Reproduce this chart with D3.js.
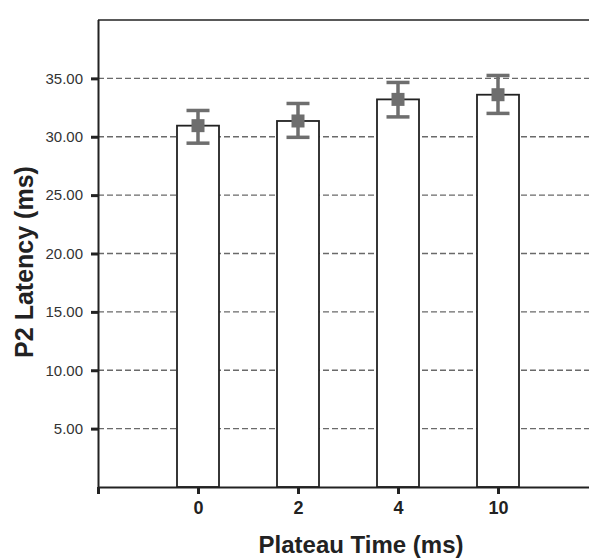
<!DOCTYPE html>
<html lang="en">
  <head>
    <meta charset="utf-8" />
    <title>P2 Latency by Plateau Time</title>
    <script src="https://d3js.org/d3.v7.min.js"></script>
    <style>
      body { margin: 0; background: #fff; }
      svg { display: block; font-family: "Liberation Sans", Arial, sans-serif; }
    </style>
  </head>
  <body>
    <svg id="chart" width="589" height="560"></svg>

    <script>
      // values
      const categories = ["0", "2", "4", "10"];
      const means = [30.95, 31.35, 33.2, 33.6];
      const errLow = [29.45, 29.95, 31.7, 32.0];
      const errHigh = [32.25, 32.85, 34.65, 35.25];
      const yTicks = [5, 10, 15, 20, 25, 30, 35];

      const svg = d3.select("#chart"),
        width = +svg.attr("width");

      const plotLeft = 98, plotTop = 20, plotBottom = 487, plotRight = 598;

      // empty slots at both ends, like the original
      const x = d3.scalePoint()
        .domain(["_a", ...categories, "_b"])
        .range([plotLeft, plotRight]);

      const y = d3.scaleLinear()
        .domain([0, 40])
        .range([plotBottom, plotTop]);

      // dashed grid
      svg.append("g")
        .selectAll("line")
        .data(yTicks)
        .enter()
        .append("line")
        .attr("x1", plotLeft)
        .attr("x2", width)
        .attr("y1", d => y(d))
        .attr("y2", d => y(d))
        .attr("stroke", "#6a6a6a")
        .attr("stroke-width", 1.4)
        .attr("stroke-dasharray", "6,3");

      // top frame line
      svg.append("line")
        .attr("x1", plotLeft).attr("x2", width)
        .attr("y1", plotTop).attr("y2", plotTop)
        .attr("stroke", "#222").attr("stroke-width", 1.6);

      const data = categories.map((c, i) => ({ c: c, m: means[i], lo: errLow[i], hi: errHigh[i] }));
      const barW = 42;

      // bars
      svg.append("g")
        .selectAll("rect")
        .data(data)
        .enter()
        .append("rect")
        .attr("x", d => x(d.c) - barW / 2)
        .attr("y", d => y(d.m))
        .attr("width", barW)
        .attr("height", d => plotBottom - y(d.m))
        .attr("fill", "#fff")
        .attr("stroke", "#222")
        .attr("stroke-width", 1.8);

      // error bars
      const err = svg.append("g")
        .attr("stroke", "#6e6e6e")
        .attr("stroke-width", 3.5);

      err.selectAll(".stem")
        .data(data)
        .enter()
        .append("line")
        .attr("x1", d => x(d.c)).attr("x2", d => x(d.c))
        .attr("y1", d => y(d.lo)).attr("y2", d => y(d.hi));

      ["lo", "hi"].forEach(k => {
        err.selectAll(".cap-" + k)
          .data(data)
          .enter()
          .append("line")
          .attr("x1", d => x(d.c) - 11.5).attr("x2", d => x(d.c) + 11.5)
          .attr("y1", d => y(d[k])).attr("y2", d => y(d[k]));
      });

      // mean markers
      svg.append("g")
        .selectAll("rect")
        .data(data)
        .enter()
        .append("rect")
        .attr("x", d => x(d.c) - 6.5)
        .attr("y", d => y(d.m) - 6.5)
        .attr("width", 13)
        .attr("height", 13)
        .attr("fill", "#6e6e6e");

      // y axis
      const yAxis = svg.append("g")
        .attr("transform", `translate(${plotLeft},0)`)
        .call(d3.axisLeft(y).tickValues(yTicks).tickFormat(d3.format(".2f")).tickSize(7).tickSizeOuter(0));
      yAxis.select(".domain").attr("stroke", "#222").attr("stroke-width", 2)
        .attr("d", `M0.5,${plotTop}V${plotBottom}`);
      yAxis.selectAll(".tick line").attr("stroke", "#222").attr("stroke-width", 3);
      yAxis.selectAll(".tick text")
        .attr("x", -15)
        .attr("fill", "#333")
        .style("font-size", "15px");

      // x axis
      const xAxis = svg.append("g")
        .attr("transform", `translate(0,${plotBottom})`)
        .call(d3.axisBottom(x).tickFormat(d => d.startsWith("_") ? "" : d).tickSize(7).tickSizeOuter(0));
      xAxis.select(".domain").attr("stroke", "#222").attr("stroke-width", 2)
        .attr("d", `M${plotLeft},0.5H${width}`);
      xAxis.selectAll(".tick line").attr("stroke", "#222").attr("stroke-width", 3);
      xAxis.selectAll(".tick text")
        .attr("y", 14)
        .attr("fill", "#222")
        .style("font-size", "18px")
        .style("font-weight", "bold");

      // axis titles
      svg.append("text")
        .attr("x", 361)
        .attr("y", 553)
        .attr("text-anchor", "middle")
        .attr("fill", "#222")
        .style("font-size", "24px")
        .style("font-weight", "bold")
        .text("Plateau Time (ms)");

      svg.append("text")
        .attr("transform", "translate(33,262) rotate(-90)")
        .attr("text-anchor", "middle")
        .attr("fill", "#222")
        .style("font-size", "25px")
        .style("font-weight", "bold")
        .text("P2 Latency (ms)");
    </script>
  </body>
</html>
